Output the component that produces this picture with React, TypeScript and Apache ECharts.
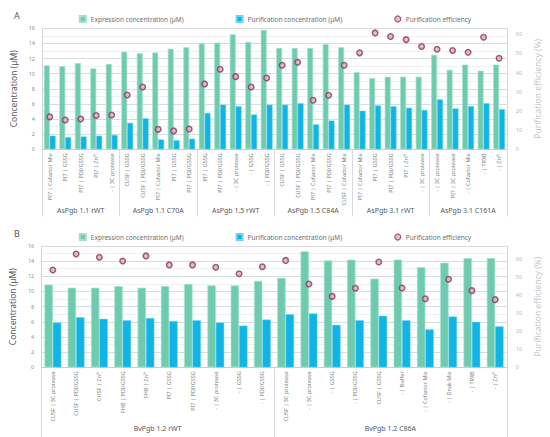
import React, { useEffect, useRef } from "react";
import * as echarts from "echarts";

const catsA = [
  "PI7 | Cofactor Mix", "PI7 | GSSG", "PI7 | PDI/GSSG", "PI7 | Zn²⁺", "- | 3C protease",
  "CUSF | GSSG", "CUSF | PDI/GSSG", "PI7 | Cofactor Mix", "PI7 | GSSG", "PI7 | PDI/GSSG",
  "PI7 | GSSG", "PI7 | PDI/GSSG", "- | 3C protease", "- | GSSG", "- | PDI/GSSG",
  "CUSF | GSSG", "CUSF | PDI/GSSG", "PI7 | Cofactor Mix", "PI7 | PDI/GSSG", "CUSF | Cofactor Mix",
  "PI7 | Cofactor Mix", "PI7 | GSSG", "PI7 | PDI/GSSG", "PI7 | Zn²⁺", "- | 3C protease",
  "- | 3C protease", "PI7 | 3C protease", "- | Cofactor Mix", "- | TRXB", "- | Zn²⁺",
];
const groupsA = ["AsPgb 1.1 rWT", "AsPgb 1.1 C70A", "AsPgb 1.5 rWT", "AsPgb 1.5 C84A", "AsPgb 3.1 rWT", "AsPgb 3.1 C161A"];
const expA = [
  11.1, 11.0, 11.4, 10.7, 11.3,
  12.9, 12.7, 12.8, 13.3, 13.5,
  14.0, 14.1, 15.2, 14.2, 15.8,
  13.4, 13.4, 13.4, 13.9, 13.5,
  10.2, 9.4, 9.6, 9.6, 9.6,
  12.5, 10.5, 11.2, 10.4, 11.2,
];
const purA = [
  1.8, 1.6, 1.7, 1.8, 1.9,
  3.5, 4.1, 1.3, 1.2, 1.4,
  4.8, 5.9, 5.7, 4.6, 5.9,
  5.9, 6.1, 3.3, 3.8, 5.9,
  5.1, 5.8, 5.7, 5.5, 5.2,
  6.6, 5.4, 5.7, 6.1, 5.3,
];
const effA = [
  16.9, 15.3, 15.8, 17.6, 17.9,
  28.3, 32.5, 10.4, 9.6, 10.6,
  34.1, 41.7, 37.9, 32.5, 37.2,
  43.8, 45.4, 25.6, 28.2, 43.8,
  50.3, 60.7, 58.8, 57.2, 53.6,
  52.2, 51.5, 50.6, 58.4, 47.5,
];

const catsB = [
  "CUSF | 3C protease", "CUSF | PDI/GSSG", "CUSF | Zn²⁺", "FHB | PDI/GSSG", "FHB | Zn²⁺",
  "PI7 | GSSG", "PI7 | PDI/GSSG", "- | 3C protease", "- | GSSG", "- | PDI/GSSG",
  "CUSF | 3C protease", "- | 3C protease", "- | GSSG", "- | PDI/GSSG", "CUSF | GSSG",
  "- | Buffer", "- | Cofactor Mix", "- | Dnak Mix", "- | TRXB", "- | Zn²⁺",
];
const groupsB = ["BvPgb 1.2 rWT", "BvPgb 1.2 C86A"];
const expB = [
  10.9, 10.5, 10.5, 10.7, 10.5, 10.7, 11.0, 10.8, 10.8, 11.4,
  11.8, 15.3, 14.1, 14.2, 11.7, 14.2, 13.2, 13.8, 14.4, 14.4,
];
const purB = [
  5.9, 6.6, 6.4, 6.2, 6.5, 6.1, 6.2, 5.9, 5.5, 6.3,
  7.0, 7.1, 5.6, 6.2, 6.8, 6.2, 5.0, 6.7, 6.0, 5.4,
];
const effB = [
  54.1, 63.0, 61.1, 59.1, 61.9, 56.9, 56.9, 55.6, 52.0, 55.9,
  59.4, 46.3, 39.4, 43.9, 58.5, 44.1, 38.1, 48.9, 42.6, 37.6,
];

const FONT = "Noto Sans";
const GREEN = "#6fcbaf";
const BLUE = "#10b4e6";
const NAME_EXP = "Expression concentration (µM)";
const NAME_PUR = "Purification concentration (µM)";
const NAME_EFF = "Purification efficiency";

function buildPanel(
  gi: number,
  cats: string[],
  groups: string[],
  rightMax: number,
  exp: number[],
  pur: number[],
  eff: number[],
  barW: string,
  tickLen: number
) {
  const xAxes = [
    {
      type: "category",
      gridIndex: gi,
      data: cats,
      position: "bottom",
      axisLine: { show: true, lineStyle: { color: "#c9cdd1", width: 1 } },
      axisTick: { show: false },
      axisLabel: {
        interval: 0,
        rotate: 90,
        fontSize: 5.5,
        color: "#7a7f85",
        margin: 4,
        fontFamily: FONT,
      },
    },
    {
      type: "category",
      gridIndex: gi,
      data: groups,
      position: "bottom",
      axisLine: { show: false },
      axisTick: { show: true, interval: 0, length: tickLen, lineStyle: { color: "#d8dbde", width: 1 } },
      axisLabel: { interval: 0, fontSize: 7, color: "#555a60", margin: 58, fontFamily: FONT },
      splitLine: { show: false },
    },
  ];
  const yAxes = [
    {
      type: "value",
      gridIndex: gi,
      min: 0,
      max: 16,
      interval: 2,
      name: "Concentration (µM)",
      nameLocation: "middle",
      nameGap: 20,
      nameTextStyle: { fontSize: 8.5, color: "#555a60", fontFamily: FONT },
      axisLine: { show: true, lineStyle: { color: "#d3d6d9" } },
      axisTick: { show: false },
      axisLabel: { fontSize: 5.5, color: "#8a8f94", margin: 7, fontFamily: FONT },
      splitLine: { show: true, lineStyle: { color: "#d9dcdf", width: 1 } },
      minorTick: { show: false, splitNumber: 2 },
      minorSplitLine: { show: true, lineStyle: { color: "#eef0f1", width: 1 } },
    },
    {
      type: "value",
      gridIndex: gi,
      min: 0,
      max: rightMax,
      interval: 10,
      position: "right",
      name: "Purification efficiency (%)",
      nameLocation: "middle",
      nameGap: 22,
      nameTextStyle: { fontSize: 8.5, color: "#c4c7ca", fontFamily: FONT },
      axisLine: { show: true, lineStyle: { color: "#d3d6d9" } },
      axisTick: { show: false },
      axisLabel: { fontSize: 5.5, color: "#b5b9bd", margin: 9, showMaxLabel: false, fontFamily: FONT },
      splitLine: { show: false },
    },
  ];
  const xi = gi * 2;
  const yi = gi * 2;
  const series = [
    {
      name: NAME_EXP,
      type: "bar",
      xAxisIndex: xi,
      yAxisIndex: yi,
      data: exp,
      barWidth: barW,
      barGap: "0%",
      itemStyle: { color: GREEN, borderColor: "#a2e2cd", borderWidth: 0.7 },
    },
    {
      name: NAME_PUR,
      type: "bar",
      xAxisIndex: xi,
      yAxisIndex: yi,
      data: pur,
      barWidth: barW,
      barGap: "0%",
      itemStyle: { color: BLUE, borderColor: "#6fd3f2", borderWidth: 0.5 },
    },
    {
      name: NAME_EFF,
      type: "scatter",
      xAxisIndex: xi,
      yAxisIndex: yi + 1,
      data: eff,
      symbol: "circle",
      symbolSize: 5.5,
      itemStyle: { color: "#d9aec1", borderColor: "#8b375d", borderWidth: 1.5 },
      z: 5,
    },
  ];
  return { xAxes, yAxes, series };
}

export default function App() {
  const ref = useRef<HTMLDivElement>(null);
  useEffect(() => {
    if (!ref.current) return;
    const chart = echarts.init(ref.current, undefined, { renderer: "svg" });
    const pA = buildPanel(0, catsA, groupsA, 63.1, expA, purA, effA, "38%", 67);
    const pB = buildPanel(1, catsB, groupsB, 67.4, expB, purB, effB, "36%", 70);
    const legendCommon = {
      itemWidth: 6,
      itemHeight: 6,
      itemGap: 52,
      textStyle: { fontSize: 6.5, color: "#6a6f75", fontFamily: FONT },
      data: [
        { name: NAME_EXP, icon: "rect" },
        { name: NAME_PUR, icon: "rect" },
        { name: NAME_EFF, icon: "circle", itemStyle: { borderWidth: 1.2 } },
      ],
      selectedMode: false,
    };
    chart.setOption({
      animation: false,
      backgroundColor: "#ffffff",
      textStyle: { fontFamily: FONT },
      title: [
        { text: "A", left: 9, top: 6, textStyle: { fontSize: 9, fontWeight: "normal", color: "#555a60", fontFamily: FONT } },
        { text: "B", left: 9, top: 224, textStyle: { fontSize: 9, fontWeight: "normal", color: "#555a60", fontFamily: FONT } },
      ],
      legend: [
        { ...legendCommon, left: "center", top: 10 },
        { ...legendCommon, left: "center", top: 228 },
      ],
      grid: [
        { left: 42, right: 35, top: 28.3, height: 121, containLabel: false },
        { left: 39.5, right: 34.5, top: 246, height: 121.3, containLabel: false },
      ],
      xAxis: [...pA.xAxes, ...pB.xAxes],
      yAxis: [...pA.yAxes, ...pB.yAxes],
      series: [...pA.series, ...pB.series],
    });
    return () => chart.dispose();
  }, []);
  return (
    <div
      ref={ref}
      style={{ position: "absolute", left: 0, top: 0, width: 550, height: 437, background: "#fff" }}
    />
  );
}
